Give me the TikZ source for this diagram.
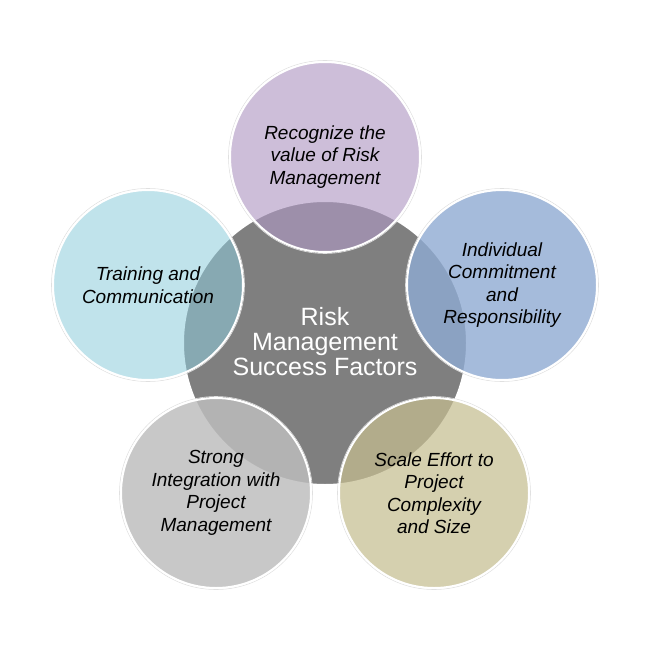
\documentclass[tikz,border=0pt]{standalone}
\usepackage{fontspec}
\setmainfont{Liberation Sans}
\definecolor{cgray}{RGB}{127,127,127}
\definecolor{cpurple}{RGB}{176,153,196}
\definecolor{clblue}{RGB}{142,204,220}
\definecolor{cblue}{RGB}{143,171,211}
\definecolor{clgray}{RGB}{190,190,190}
\definecolor{colive}{RGB}{198,190,145}
\begin{document}
\begin{tikzpicture}[x=1pt,y=-1pt,
  outer/.style={circle,minimum size=190pt,inner sep=0pt,text opacity=1,
    draw=white,line width=2pt,align=center,font=\fontsize{19}{22.5}\selectfont\itshape,text=black},
  halo/.style={draw=black!12,line width=0.6pt}]
\useasboundingbox (0,0) rectangle (650,650);
\fill[white] (0,0) rectangle (650,650);
\node[circle,minimum size=284pt,inner sep=0pt,fill=cgray,draw=white,line width=2pt] (c) at (325,343) {};
\foreach \p in {(325,157),(502,285),(434,493),(216,493),(148,285)}
  \draw[halo] \p circle (96.5pt);
\node[outer,fill=cpurple,fill opacity=0.63] (t) at (325,157) {Recognize the\\value of Risk\\Management};
\node[outer,fill=cblue,fill opacity=0.8] (r) at (502,285) {Individual\\Commitment\\and\\Responsibility};
\node[outer,fill=colive,fill opacity=0.72] (br) at (434,493) {Scale Effort to\\Project\\Complexity\\and Size};
\node[outer,fill=clgray,fill opacity=0.84] (bl) at (216,493) {Strong\\Integration with\\Project\\Management};
\node[outer,fill=clblue,fill opacity=0.55] (l) at (148,285) {Training and\\Communication};
\node[align=center,text=white,font=\fontsize{25}{25}\selectfont] (ct) at (325,342) {Risk\\Management\\Success Factors};
\end{tikzpicture}
\end{document}
